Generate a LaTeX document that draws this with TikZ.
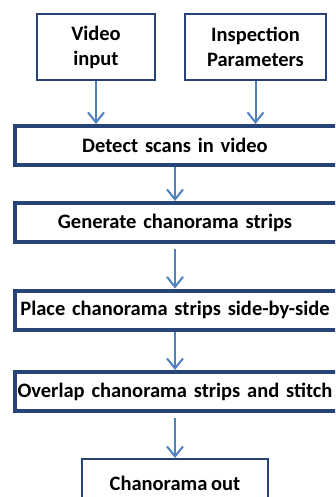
\documentclass[tikz,border=0pt]{standalone}
\usepackage{fontspec}
\setmainfont{Carlito}[WordSpace=0.8]
\usepackage{tikz}
\usetikzlibrary{arrows.meta, positioning}
\definecolor{boxblue}{RGB}{38, 68, 120}
\definecolor{arrowblue}{RGB}{79, 129, 189}

\tikzset{
  inbox/.style={draw=boxblue, line width=1.5pt, fill=white, align=center,
    inner sep=0pt, font=\fontsize{20.5}{25}\selectfont\bfseries},
  stagebox/.style={draw=boxblue, line width=4pt, fill=white, inner sep=0pt,
    anchor=west, text width=340pt, align=left, minimum height=39pt,
    font=\fontsize{20.5}{25}\selectfont\bfseries},
  flow/.style={arrowblue, line width=2pt,
    -{Straight Barb[length=10pt, width=16pt, line width=2pt]}}
}
% stage text centred on the visible part of the box
\newcommand{\stagetext}[1]{\makebox[321pt]{#1}}

\begin{document}
\begin{tikzpicture}[x=1pt, y=-1pt]
        \useasboundingbox (0,0) rectangle (335,497);
        \clip (0,0) rectangle (335,497);

        % Inputs
        \node[inbox, minimum width=118pt, minimum height=66pt] (video) at (96,47)
          {Video\\input};
        \node[inbox, minimum width=141pt, minimum height=66pt] (params) at (255.5,47)
          {Inspection\\Parameters};

        % Processing stages
        \node[stagebox] (detect) at (12.5,145.5) {\stagetext{Detect scans in video}};
        \node[stagebox] (generate) at (12.5,222.5) {\stagetext{Generate chanorama strips}};
        \node[stagebox] (place) at (12.5,310) {\stagetext{Place chanorama strips side-by-side}};
        \node[stagebox] (overlap) at (12.5,391.5) {\stagetext{Overlap chanorama strips and stitch}};

        % Output
        \node[inbox, anchor=north, minimum width=186pt, text height=32pt,
          text depth=20pt] (out) at (175,458) {Chanorama out};

        % Connectors
        \coordinate (videoend) at (video.south |- detect.north);
        \coordinate (paramsend) at (params.south |- detect.north);
        \draw[flow] (video.south) -- (videoend);
        \draw[flow] (params.south) -- (paramsend);
        \coordinate (spine) at (175,0);
        \draw[flow] (spine |- detect.south) -- (spine |- generate.north);
        \draw[flow, shorten <=5pt] (spine |- generate.south) -- (spine |- place.north);
        \draw[flow] (spine |- place.south) -- (spine |- overlap.north);
        \draw[flow, shorten <=5pt] (spine |- overlap.south) -- (spine |- out.north);
      \end{tikzpicture}
\end{document}
